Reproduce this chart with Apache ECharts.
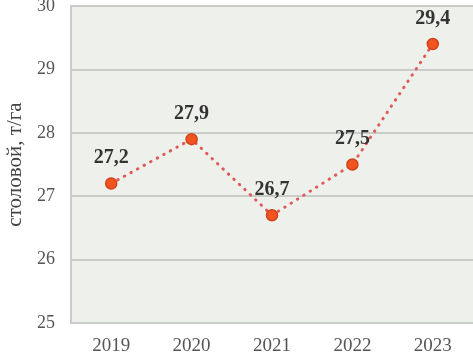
<!DOCTYPE html>
<html>
<head>
<meta charset="utf-8">
<script src="https://cdn.jsdelivr.net/npm/echarts@6/dist/echarts.min.js"></script>
<style>
  html, body { margin: 0; padding: 0; background: #fff; }
  #chart { width: 473px; height: 354px; }
</style>
</head>
<body>
<div id="chart"></div>
<script>
const years = ["2019", "2020", "2021", "2022", "2023"];
const yieldValues = [27.2, 27.9, 26.7, 27.5, 29.4];
const yTicks = [25, 26, 27, 28, 29, 30];

const chart = echarts.init(document.getElementById("chart"));
const serif = "'Liberation Serif', 'DejaVu Serif', serif";

chart.setOption({
  animation: false,
  grid: {
    left: 71,
    right: 0,
    top: 6,
    bottom: 31,
    outerBoundsMode: "none",
    containLabel: false,
    show: true,
    backgroundColor: "#eef0eb",
    borderWidth: 0,
  },
  xAxis: {
    type: "category",
    data: years,
    boundaryGap: true,
    axisTick: { show: false },
    axisLine: { show: true, lineStyle: { color: "#c9ccc8", width: 2 } },
    axisLabel: { fontFamily: serif, fontSize: 19, color: "#555", margin: 14 },
  },
  yAxis: {
    type: "value",
    min: yTicks[0],
    max: yTicks[yTicks.length - 1],
    interval: 1,
    name: "столовой, т/га",
    nameLocation: "middle",
    nameGap: 45,
    nameTextStyle: { fontFamily: serif, fontSize: 21, color: "#444" },
    axisLine: { show: true, lineStyle: { color: "#c9ccc8", width: 2 } },
    axisTick: { show: false },
    axisLabel: { fontFamily: serif, fontSize: 18, color: "#555", margin: 16 },
    splitLine: { show: true, lineStyle: { color: "#c9ccc8", width: 2 } },
  },
  series: [
    {
      type: "line",
      data: yieldValues,
      symbol: "circle",
      symbolSize: 11,
      itemStyle: { color: "#f2541f", borderColor: "#cf4419", borderWidth: 1.5 },
      lineStyle: { color: "#e25a57", width: 3, type: [0.5, 7], cap: "round" },
      label: {
        show: true,
        position: "top",
        distance: 9,
        fontFamily: serif,
        fontWeight: "bold",
        fontSize: 20,
        color: "#333",
        formatter: (p) => String(p.value).replace(".", ","),
      },
    },
  ],
});
</script>
</body>
</html>
